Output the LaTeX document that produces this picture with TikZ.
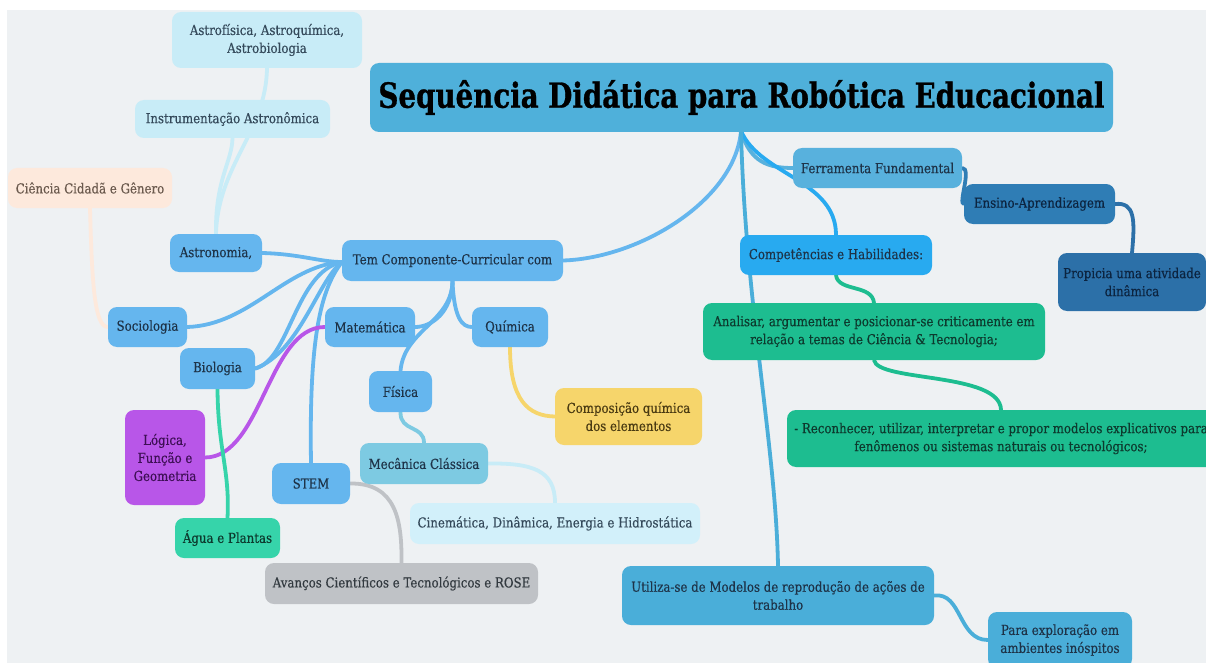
\documentclass[tikz,border=0pt]{standalone}
\usepackage{fontspec}
\usepackage{graphicx}
\setmainfont{DejaVu Serif}[FakeStretch=0.86, FakeBold=0.35]
\newfontfamily\titlefont{DejaVu Serif}[FakeStretch=0.80, FakeBold=0.8]
\pgfdeclarelayer{back}
\pgfdeclarelayer{edges}
\pgfsetlayers{back,edges,main}
\definecolor{bgc}{HTML}{EEF1F3}
\definecolor{titleblue}{HTML}{4FB0DA}
\definecolor{cblue}{HTML}{65B6EE}
\definecolor{lcyan}{HTML}{C8ECF7}
\definecolor{peach}{HTML}{FDE9DC}
\definecolor{purp}{HTML}{B856E8}
\definecolor{yell}{HTML}{F6D56B}
\definecolor{mecc}{HTML}{7DCAE2}
\definecolor{cinec}{HTML}{D2F0FA}
\definecolor{aguac}{HTML}{36D4AA}
\definecolor{grayc}{HTML}{BFC2C6}
\definecolor{ferrc}{HTML}{58B1DD}
\definecolor{ensc}{HTML}{2F7DB5}
\definecolor{propc}{HTML}{2C70A8}
\definecolor{compc}{HTML}{28AAF0}
\definecolor{greenc}{HTML}{1DBD90}
\definecolor{utilc}{HTML}{4AAED9}
\definecolor{txt}{HTML}{1E3348}
\definecolor{txtl}{HTML}{34495A}
\definecolor{txtp}{HTML}{6B5A4E}
\definecolor{txtpu}{HTML}{3E0F55}
\definecolor{txty}{HTML}{4A3B12}
\definecolor{txtg}{HTML}{0D3A2E}
\definecolor{txtgr}{HTML}{333A40}
\definecolor{txtd}{HTML}{0C2440}
\tikzset{
  box/.style={rounded corners=9pt, inner sep=0pt, align=center,
    font=\fontsize{13.7}{18}\selectfont, text=txt},
  sz/.style n args={2}{minimum width=#1pt, minimum height=#2pt},
  link/.style={line width=3.8pt, line cap=round},
}
\begin{document}
\begin{tikzpicture}[x=1pt,y=-1pt]
\useasboundingbox (0,0) rectangle (1206,663);
\begin{pgfonlayer}{back}
\fill[white] (0,0) rectangle (1206,663);
\fill[bgc] (7,10) rectangle (1206,663);
\end{pgfonlayer}

% nodes
\node[box, fill=titleblue, sz={743}{69}, text=black] (title) at (741.5,97.5)
  {\resizebox{726pt}{!}{\titlefont\bfseries Sequência Didática para Robótica Educacional}};
\node[box, fill=lcyan, text=txtl, sz={190}{56}] (astrof) at (267,40) {Astrofísica, Astroquímica,\\ Astrobiologia};
\node[box, fill=lcyan, text=txtl, sz={195}{38}] (instr) at (232.5,119) {Instrumentação Astronômica};
\node[box, fill=peach, text=txtp, sz={164}{40}] (ciencia) at (90,188) {Ciência Cidadã e Gênero};
\node[box, fill=cblue, sz={92}{38}] (astronomia) at (216,253) {Astronomia,};
\node[box, fill=cblue, sz={221}{41}] (tem) at (452.5,260.5) {Tem Componente-Curricular com};
\node[box, fill=cblue, sz={79}{40}] (socio) at (147.5,327) {Sociologia};
\node[box, fill=cblue, sz={90}{40}] (mat) at (370,327) {Matemática};
\node[box, fill=cblue, sz={76}{40}] (quim) at (510,327) {Química};
\node[box, fill=cblue, sz={75}{41}] (bio) at (217.5,368.5) {Biologia};
\node[box, fill=cblue, sz={63}{41}] (fis) at (400.5,391.5) {Física};
\node[box, fill=purp, text=txtpu, sz={80}{95}] (logica) at (165,457.5) {Lógica,\\ Função e\\ Geometria};
\node[box, fill=yell, text=txty, sz={147}{57}] (comp) at (628.5,416.5) {Composição química\\ dos elementos};
\node[box, fill=mecc, sz={128}{41}] (mec) at (424,463.5) {Mecânica Clássica};
\node[box, fill=cblue, sz={78}{41}] (stem) at (311,483.5) {STEM};
\node[box, fill=cinec, text=txtl, sz={290}{41}] (cine) at (555,523.5) {Cinemática, Dinâmica, Energia e Hidrostática};
\node[box, fill=aguac, text=txtg, sz={105}{40}] (agua) at (227.5,538) {Água e Plantas};
\node[box, fill=grayc, text=txtgr, sz={273}{41}] (avancos) at (401.5,583.5) {Avanços Científicos e Tecnológicos e ROSE};
\node[box, fill=ferrc, sz={169}{40}] (ferr) at (877.5,168) {Ferramenta Fundamental};
\node[box, fill=ensc, text=txtd, sz={151}{40}] (ensino) at (1039.5,204) {Ensino-Aprendizagem};
\node[box, fill=propc, text=txtd, sz={148}{58}] (propicia) at (1132,282) {Propicia uma atividade\\ dinâmica};
\node[box, fill=compc, sz={192}{40}] (comphab) at (836,255) {Competências e Habilidades:};
\node[box, fill=greenc, text=txtg, sz={342}{57}] (analisar) at (874,331.5) {Analisar, argumentar e posicionar-se criticamente em\\ relação a temas de Ciência \& Tecnologia;};
\node[box, fill=greenc, text=txtg, sz={428}{57}] (recon) at (1001,438.5) {- Reconhecer, utilizar, interpretar e propor modelos explicativos para\\ fenômenos ou sistemas naturais ou tecnológicos;};
\node[box, fill=utilc, sz={312}{59}] (utiliza) at (778,595.5) {Utiliza-se de Modelos de reprodução de ações de\\ trabalho};
\node[box, fill=utilc, sz={144}{56}] (para) at (1060,640) {Para exploração em\\ ambientes inóspitos};

% hub coordinate
\coordinate (hub) at (342,262);
\coordinate (temb) at (452.5,281);
\coordinate (tb) at (741,131);

\begin{pgfonlayer}{edges}
\draw[link, color=cblue] (tb) .. controls (735,200) and (640,258) .. (tem.east);
\draw[link, color=ferrc] (tb) .. controls (750,162) and (768,168) .. (ferr.west);
\draw[link, color=compc] (tb) .. controls (760,175) and (836,180) .. (comphab.north);
\draw[link, color=utilc] (tb) .. controls (745,300) and (776,450) .. (utiliza.north);
\draw[link, color=ensc] (ferr.east) .. controls (972,168) and (958,204) .. (ensino.west);
\draw[link, color=propc] (ensino.east) .. controls (1135,202) and (1135,220) .. (propicia.north);
\draw[link, color=greenc] (comphab.south) .. controls (838,292) and (872,284) .. (analisar.north);
\draw[link, color=greenc] (analisar.south) .. controls (878,382) and (1000,372) .. (recon.north);
\draw[link, color=utilc] (utiliza.east) .. controls (962,592) and (958,640) .. (para.west);
% fan from Tem
\draw[link, color=cblue] (astronomia.east) .. controls (300,254) and (320,262) .. (hub);
\draw[link, color=cblue] (socio.east) .. controls (250,325) and (285,266) .. (hub);
\draw[link, color=cblue] (bio.east) .. controls (290,360) and (295,272) .. (hub);
\draw[link, color=cblue] (bio.east) .. controls (300,352) and (318,280) .. (hub);
\draw[link, color=cblue] (hub) .. controls (320,290) and (309,340) .. (stem.north);
\draw[link, color=cblue] (temb) .. controls (452,312) and (432,327) .. (mat.east);
\draw[link, color=cblue] (temb) .. controls (452,322) and (404,330) .. (fis.north);
\draw[link, color=cblue] (temb) .. controls (454,318) and (462,327) .. (quim.west);
% children
\draw[link, color=purp] (mat.west) .. controls (268,327) and (262,457) .. (logica.east);
\draw[link, color=aguac] (bio.south) .. controls (218,450) and (230,470) .. (agua.north);
\draw[link, color=yell] (quim.south) .. controls (510,400) and (528,416) .. (comp.west);
\draw[link, color=mecc] (fis.south) .. controls (400,432) and (424,425) .. (mec.north);
\draw[link, color=lcyan] (mec.east) .. controls (532,463) and (555,470) .. (cine.north);
\draw[link, color=grayc] (stem.east) .. controls (396,483) and (402,520) .. (avancos.north);
\draw[link, color=lcyan] (astronomia.north) .. controls (215,180) and (232,162) .. (instr.south);
\draw[link, color=lcyan] (astronomia.north) .. controls (218,165) and (266,132) .. (astrof.south);
\draw[link, color=peach] (socio.west) .. controls (94,327) and (92,280) .. (ciencia.south);
\end{pgfonlayer}
\end{tikzpicture}
\end{document}
